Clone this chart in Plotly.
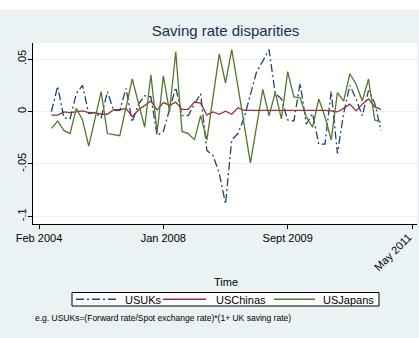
import plotly.graph_objects as go

# Observation numbers along the time axis
obs = list(range(2, 56))

# Tick positions (observation numbers) and their date labels
tick_pos = [0, 20, 40, 60]
tick_labels = ["Feb 2004", "Jan 2008", "Sept 2009", "May 2011"]

y_ticks = [-0.1, -0.05, 0, 0.05]
y_tick_labels = ["-.1", "-.05", "0", ".05"]

us_uk = [
    0.000, 0.024, -0.006, -0.007, 0.017, 0.025, -0.002, -0.001, -0.006, 0.019,
    0.001, 0.001, 0.022, -0.010, 0.007, 0.015, 0.014, -0.023, -0.019, 0.001,
    0.023, -0.004, -0.004, 0.007, 0.017, -0.037, -0.042, -0.059, -0.088, -0.027,
    -0.021, -0.006, 0.016, 0.038, 0.048, 0.059, 0.017, 0.012, -0.008, -0.009,
    0.027, -0.012, -0.002, -0.031, -0.031, 0.019, -0.040, -0.002, 0.025, 0.012,
    -0.004, 0.020, 0.008, -0.018,
]
us_china = [
    -0.0035, -0.0035, -0.0004, -0.001, -0.0004, 0.0006, -0.001, -0.001, -0.0026, -0.0026,
    0.0017, 0.0017, 0.0029, -0.005, 0.0014, 0.006, 0.010, 0.0014, 0.0085, 0.006,
    0.009, 0.002, 0.002, 0.009, 0.008, -0.0035, -0.0004, -0.0026, 0.0003, -0.0026,
    0.0036, 0.001, 0.001, 0.001, 0.001, 0.001, 0.001, 0.0015, 0.001, 0.001,
    0.001, 0.001, 0.001, 0.001, 0.001, 0.0006, -0.0004, 0.003, 0.007, 0.0006,
    0.007, 0.012, 0.0044, 0.002,
]
us_japan = [
    -0.016, -0.009, -0.018, -0.021, 0.003, -0.008, -0.033, -0.007, 0.019, -0.021,
    -0.022, -0.023, 0.004, 0.031, 0.008, -0.015, 0.035, -0.020, 0.034, 0.000,
    0.057, -0.019, -0.021, -0.027, -0.004, -0.027, 0.014, 0.055, 0.027, 0.059,
    0.024, -0.012, -0.049, -0.014, 0.021, -0.004, 0.018, -0.007, 0.038, 0.014,
    0.013, -0.005, -0.015, 0.012, -0.005, -0.027, 0.018, 0.010, 0.036, 0.026,
    0.010, 0.031, -0.008, -0.010,
]

series_names = ["USUKs", "USChinas", "USJapans"]
series_values = [us_uk, us_china, us_japan]

NAVY = "#1A476F"
MAROON = "#90353B"
GREEN = "#55752F"
BG = "#EAF2F3"
FONT = "Liberation Sans"
UK_DASH = "8px,3px,2px,3px"

series_colors = [NAVY, MAROON, GREEN]
series_dash = [UK_DASH, "solid", "solid"]

W, H = 419, 338
L, R, T, B = 33, 2, 43, 114
plot_w = W - L - R
plot_h = H - T - B


def px_x(px):
    """Pixel column -> paper x."""
    return (px - L) / plot_w


def px_y(px):
    """Pixel row (from top of page) -> paper y."""
    return (H - B - px) / plot_h


fig = go.Figure()
for name, vals, col, dash in zip(series_names, series_values, series_colors, series_dash):
    fig.add_trace(go.Scatter(x=obs, y=vals, name=name, mode="lines", showlegend=False,
                             line=dict(color=col, width=1.3, dash=dash)))

# Legend box drawn as a framed row of keys below the axis title
leg_top, leg_bot = 292.5, 306
leg_mid = (leg_top + leg_bot) / 2
key_spans = [(76, 117), (163, 206), (274, 315)]
label_x = [123, 214, 321]

shapes = [
    # white strip along the top edge of the page
    dict(type="rect", xref="paper", yref="paper", x0=-1, x1=2,
         y0=px_y(10), y1=px_y(-5), fillcolor="white", line=dict(width=0), layer="above"),
    dict(type="rect", xref="paper", yref="paper", x0=px_x(72), x1=px_x(379),
         y0=px_y(leg_bot), y1=px_y(leg_top), fillcolor="white",
         line=dict(color="black", width=1)),
]
annotations = []
for (k0, k1), lx, name, col, dash in zip(key_spans, label_x, series_names,
                                          series_colors, series_dash):
    shapes.append(dict(type="line", xref="paper", yref="paper", x0=px_x(k0), x1=px_x(k1),
                       y0=px_y(leg_mid), y1=px_y(leg_mid),
                       line=dict(color=col, width=1.3, dash=dash)))
    annotations.append(dict(text=name, x=px_x(lx), xref="paper", y=px_y(leg_mid + 0.5),
                            yref="paper", xanchor="left", yanchor="middle",
                            showarrow=False, font=dict(family=FONT, size=11, color="black")))

annotations += [
    dict(text=tick_labels[3], x=tick_pos[3], xref="x", y=0, yref="paper",
         xanchor="right", yanchor="top", textangle=-45, showarrow=False,
         xshift=5, yshift=-4, font=dict(family=FONT, size=11, color="black")),
    dict(text="Time", x=px_x(225.5), xref="paper", y=px_y(281.5),
         yref="paper", xanchor="center", yanchor="middle", showarrow=False,
         font=dict(family=FONT, size=11, color="black")),
    dict(text="e.g. USUKs=(Forward rate/Spot exchange rate)*(1+ UK saving rate)",
         x=0, xref="paper", y=px_y(317.5), yref="paper", xanchor="left",
         yanchor="middle", showarrow=False,
         font=dict(family=FONT, size=8.5, color="black")),
]

fig.update_layout(
    width=W, height=H,
    margin=dict(l=L, r=R, t=T, b=B, pad=0),
    paper_bgcolor=BG,
    plot_bgcolor="white",
    font=dict(family=FONT, size=11, color="black"),
    showlegend=False,
    title=dict(text="Saving rate disparities", x=225.5 / W, xanchor="center",
               y=1 - 31 / H, yanchor="middle", yref="container",
               font=dict(family=FONT, size=15, color="#1E2D4F")),
    xaxis=dict(range=[(L - 39) / 6.217, (W - R - 39) / 6.217],
               tickvals=tick_pos, ticktext=tick_labels[:3] + [""],
               ticks="outside", ticklen=4, tickcolor="black", tickwidth=1,
               showline=True, linecolor="black", linewidth=1,
               showgrid=False, zeroline=False,
               tickfont=dict(family=FONT, size=11, color="black")),
    yaxis=dict(range=[-0.1072, 0.0653],
               tickvals=y_ticks, ticktext=y_tick_labels, tickangle=-90,
               ticks="outside", ticklen=4, tickcolor="black", tickwidth=1,
               ticklabelstandoff=-2,
               showline=True, linecolor="black", linewidth=1,
               showgrid=True, gridcolor=BG, gridwidth=1, zeroline=False,
               tickfont=dict(family=FONT, size=11, color="black")),
    shapes=shapes,
    annotations=annotations,
)

fig.write_html("out.html")
